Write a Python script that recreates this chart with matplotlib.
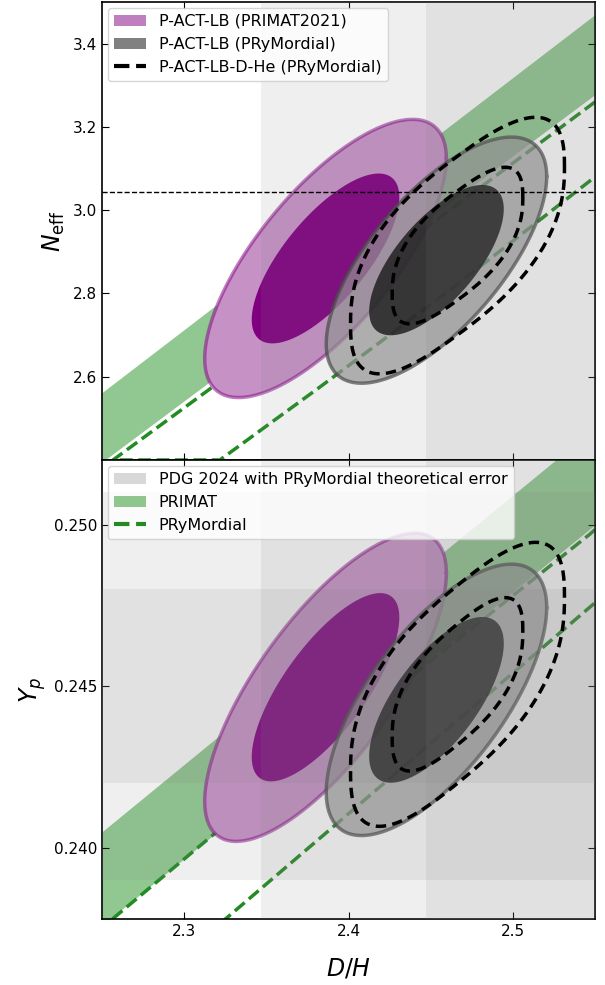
import numpy as np
import matplotlib as mpl
mpl.use('Agg')
import matplotlib.pyplot as plt
from matplotlib.patches import Patch
from matplotlib.lines import Line2D

# axis ranges and ticks
dh_lim = (2.25, 2.55)
neff_lim = (2.40, 3.50)
yp_lim = (0.2378, 0.2520)
dh_ticks = [2.3, 2.4, 2.5]
neff_ticks = [2.6, 2.8, 3.0, 3.2, 3.4]
yp_ticks = [0.240, 0.245, 0.250]

neff_sm = 3.044

# PDG 2024 measurement (with PRyMordial theory error), 1 sigma
dh_obs, dh_sig = 2.547, 0.10
yp_obs, yp_sig = 0.245, 0.003

# posteriors: [mean D/H, mean y, sigma D/H, sigma y, corr, boxiness]
primat_neff = [2.386, 2.884, 0.0296, 0.1345, 0.72, 1.0]
prym_neff = [2.4535, 2.880, 0.0270, 0.1190, 0.68, 1.0]
dhe_neff = [2.4663, 2.915, 0.0262, 0.1150, 0.66, 0.78]
primat_yp = [2.386, 0.24497, 0.0296, 0.00192, 0.74, 1.0]
prym_yp = [2.4535, 0.24458, 0.0270, 0.00169, 0.68, 1.0]
dhe_yp = [2.4663, 0.24506, 0.0262, 0.00164, 0.66, 0.78]

# PRIMAT band edges
band_x = [2.25, 2.55]
band_neff_lo = [2.395, 3.278]
band_neff_hi = [2.562, 3.470]
band_yp_lo = [0.2376, 0.2500]
band_yp_hi = [0.2405, 0.2530]

# PRyMordial band outline (upper edge, then lower edge)
prym_line_x = [2.55, 2.3175, 2.2567, 2.3217, 2.3825, 2.4616, 2.55]
prym_line_neff = [3.26, 2.576, 2.40, 2.40, 2.575, 2.808, 3.08]
prym_line_x_yp = [2.55, 2.5467, 2.3175, 2.25, 2.3189, 2.5485, 2.55]
prym_line_yp = [0.24985, 0.2497, 0.2404, 0.23753, 0.23753, 0.24752, 0.2476]

K1, K2 = 2.30, 6.17


def contour_xy(p, k):
    mx, my, sx, sy, r, box = p
    t = np.linspace(0, 2 * np.pi, 400)
    u = np.sign(np.cos(t)) * np.abs(np.cos(t)) ** box
    v = np.sign(np.sin(t)) * np.abs(np.sin(t)) ** box
    cov = np.array([[sx ** 2, r * sx * sy], [r * sx * sy, sy ** 2]])
    L = np.linalg.cholesky(cov)
    pts = L @ np.vstack([u, v]) * np.sqrt(k)
    return mx + pts[0], my + pts[1]


def draw_panel(ax, band_lo, band_hi, px, py, primat, prym, dhe):
    ax.fill_between(band_x, band_lo, band_hi, color='green', alpha=0.43,
                    lw=0, zorder=1)
    ax.plot(px, py, color='forestgreen', ls='--', lw=2.5, zorder=1.5)

    # PRIMAT2021
    x, y = contour_xy(primat, K2)
    ax.fill(x, y, color='#c692c6', lw=0, zorder=2)
    ax.plot(x, y, color='purple', alpha=0.5, lw=2.5, zorder=2.1)
    x, y = contour_xy(primat, K1)
    ax.fill(x, y, color='purple', lw=0, zorder=2.2)

    # PRyMordial
    x, y = contour_xy(prym, K2)
    ax.fill(x, y, color='#969696', alpha=0.7, lw=0, zorder=2.5)
    ax.plot(x, y, color='#444444', alpha=0.7, lw=2.5, zorder=2.6)
    x, y = contour_xy(prym, K1)
    ax.fill(x, y, color='#141414', alpha=0.85, lw=0, zorder=2.7)

    ax.axvspan(dh_obs - 2 * dh_sig, dh_obs + 2 * dh_sig, color='gray',
               alpha=0.12, lw=0, zorder=3)
    ax.axvspan(dh_obs - dh_sig, dh_obs + dh_sig, color='gray',
               alpha=0.12, lw=0, zorder=3)

    # D-He
    for k in (K1, K2):
        x, y = contour_xy(dhe, k)
        ax.plot(x, y, color='k', ls='--', dashes=(3, 1.8), lw=2.5, zorder=3.8)

    ax.set_xlim(dh_lim)
    ax.set_xticks(dh_ticks)
    ax.tick_params(direction='in', top=True, right=True, length=5, labelsize=11)
    for s in ax.spines.values():
        s.set_linewidth(1.2)


fig = plt.figure(figsize=(6.05, 9.85), dpi=100)
ax1 = fig.add_axes([0.1686, 0.533, 0.815, 0.465])
ax2 = fig.add_axes([0.1686, 0.067, 0.815, 0.466])

# top: N_eff
draw_panel(ax1, band_neff_lo, band_neff_hi, prym_line_x, prym_line_neff,
           primat_neff, prym_neff, dhe_neff)
ax1.axhline(neff_sm, color='k', ls='--', lw=1, zorder=4)
ax1.set_ylim(neff_lim)
ax1.set_yticks(neff_ticks)
ax1.set_xticklabels([])
ax1.set_ylabel(r'$N_{\rm eff}$', fontsize=17)

h1 = [Patch(facecolor='purple', alpha=0.5, edgecolor='none'),
      Patch(facecolor='gray', edgecolor='none'),
      Line2D([], [], color='k', ls='--', lw=3)]
ax1.legend(h1, ['P-ACT-LB (PRIMAT2021)', 'P-ACT-LB (PRyMordial)',
                'P-ACT-LB-D-He (PRyMordial)'], loc='upper left',
           fontsize=11.5, borderaxespad=0.35)

# bottom: Y_p
draw_panel(ax2, band_yp_lo, band_yp_hi, prym_line_x_yp, prym_line_yp,
           primat_yp, prym_yp, dhe_yp)
ax2.axhspan(yp_obs - 2 * yp_sig, yp_obs + 2 * yp_sig, color='gray',
            alpha=0.12, lw=0, zorder=3)
ax2.axhspan(yp_obs - yp_sig, yp_obs + yp_sig, color='gray',
            alpha=0.12, lw=0, zorder=3)
ax2.set_ylim(yp_lim)
ax2.set_yticks(yp_ticks)
ax2.set_ylabel(r'$Y_p$', fontsize=17)
ax2.set_xlabel(r'$D/H$', fontsize=17, labelpad=13)

h2 = [Patch(facecolor='gray', alpha=0.3, edgecolor='none'),
      Patch(facecolor='green', alpha=0.43, edgecolor='none'),
      Line2D([], [], color='forestgreen', ls='--', lw=3)]
ax2.legend(h2, ['PDG 2024 with PRyMordial theoretical error', 'PRIMAT',
                'PRyMordial'], loc='upper left', fontsize=11.5,
           borderaxespad=0.35)

fig.savefig('out.png', dpi=100)
